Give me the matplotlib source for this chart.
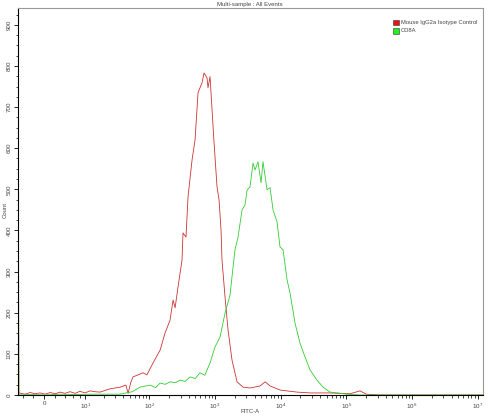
import numpy as np
import matplotlib
matplotlib.use("Agg")
import matplotlib.pyplot as plt
from matplotlib.patches import Rectangle

plt.rcParams["font.family"] = ["Liberation Sans", "DejaVu Sans"]
plt.rcParams["mathtext.fontset"] = "custom"
plt.rcParams["mathtext.rm"] = "Liberation Sans"
plt.rcParams["mathtext.it"] = "Liberation Sans"

# FITC-A values and counts
red_x = [-5.2, -5.0, -3.6, -2.5, -1.6, -0.7, 0.2, 1.1, 2.0, 3.0, 4.0, 5.2, 6.6, 8.1,
         9.9, 12, 14.5, 17.4, 25, 35.6, 44, 47.5, 52, 56.5, 80, 92, 114, 146, 174, 207,
         230, 247, 274, 315, 326, 362, 389, 448, 497, 552, 635, 681, 757, 783, 841,
         902, 968, 1074, 1153, 1236, 1279, 1422, 1581, 1815, 2167, 2673, 3412, 4853,
         5800, 6885, 9770, 17740, 27985, 56350, 113750, 161400, 200000, 325000, 1.2e7]
red_y = [815, 5, 2, 6, 3, 5, 2, 6, 3, 7, 4, 8, 4, 9,
         5, 10, 8, 7, 15, 19, 24, 4, 30, 44, 54, 49, 78, 109, 151, 182,
         231, 212, 263, 328, 394, 384, 482, 572, 620, 735, 759, 783, 771, 747, 774,
         693, 613, 506, 474, 401, 328, 238, 158, 85, 32, 19, 17, 22,
         32, 22, 12, 7, 5, 5, 3, 10, 2, 0, 0]

green_x = [-5.2, -5.0, -2.5, 0.2, 3.0, 6.6, 12, 17.4, 35.6, 55, 72, 103, 125, 146, 175,
           207, 250, 294, 350, 417, 500, 592, 700, 841, 1002, 1194, 1422, 1694, 1883,
           2018, 2244, 2582, 2864, 3076, 3412, 3793, 4072, 4518, 5023, 5383, 6193,
           6885, 7655, 8790, 9770, 10862, 12500, 13865, 16518, 19675, 23495, 27985,
           35722, 44150, 56350, 72100, 102300, 160000, 1.2e7]
green_y = [455, 0, 1, 0, 2, 1, 2, 2, 2, 8, 19, 24, 18, 29, 26,
           32, 30, 36, 33, 44, 40, 54, 48, 78, 117, 141, 199, 243, 311,
           353, 384, 450, 462, 498, 506, 564, 547, 567, 516, 567, 499,
           504, 450, 421, 360, 353, 280, 248, 175, 126, 92, 61,
           36, 19, 7, 5, 2, 0, 0]

series_names = ["Mouse IgG2a Isotype Control", "CD8A"]
line_colors = ["#cc3333", "#33cc33"]
box_colors = ["#ee1111", "#22ee22"]

x_ticks = [0, 1e1, 1e2, 1e3, 1e4, 1e5, 1e6, 1e7]
x_tick_labels = ["0"] + [r"$10^{%d}$" % k for k in range(1, 8)]


def fwd(x):
    return np.arcsinh(np.asarray(x) / 5.0) / np.log(10)


def inv(v):
    return 5.0 * np.sinh(np.asarray(v) * np.log(10))


fig = plt.figure(figsize=(5, 4.19), dpi=100)
ax = fig.add_axes([0.036, 0.0573, 0.93, 0.9237])
ax.set_xscale("function", functions=(fwd, inv))

ax.plot(red_x, red_y, color=line_colors[0], lw=0.6)
ax.plot(green_x, green_y, color=line_colors[1], lw=0.6)

ax.set_xlim(-5.22, 1.2e7)
ax.set_ylim(0, 941)

ax.set_xticks(x_ticks)
ax.set_xticklabels(x_tick_labels)
minor = [-4, -2, 2, 4, 6, 8] + [k * 10 ** d for d in range(1, 7) for k in range(2, 10)]
ax.set_xticks(minor, minor=True)
ax.set_yticks(range(0, 901, 100))
ax.set_yticks(range(0, 941, 25), minor=True)

ax.tick_params(axis="both", which="major", length=3, width=0.6, labelsize=4.5,
               labelcolor="#444444", pad=1.5)
ax.tick_params(axis="both", which="minor", length=1.8, width=0.5)
for lab in ax.get_yticklabels():
    lab.set_rotation(90)
    lab.set_va("center")

for side in ["left", "bottom"]:
    ax.spines[side].set_color("black")
    ax.spines[side].set_linewidth(0.8)
for side in ["top", "right"]:
    ax.spines[side].set_color("#999999")
    ax.spines[side].set_linewidth(0.8)

# axis titles and chart title placed in figure coords
fig.text(0.5, 1 - 411 / 419, "FITC-A", fontsize=4.3, color="#444444",
         ha="center", va="center")
fig.text(5 / 500, 0.5, "Count", fontsize=4.3, color="#444444",
         ha="center", va="center", rotation=90)
fig.text(0.5, 0.995, "Multi-sample : All Events", fontsize=4.3, color="#444444",
         ha="center", va="top")

# legend drawn as boxes + text in axes fraction
for i, name in enumerate(series_names):
    yy = 0.962 - i * 0.021
    ax.add_patch(Rectangle((0.806, yy - 0.007), 0.013, 0.015, transform=ax.transAxes,
                           facecolor=box_colors[i], edgecolor="#333333", lw=0.4,
                           clip_on=False))
    ax.text(0.823, yy, name, transform=ax.transAxes, fontsize=4.2, color="#444444",
            va="center", ha="left")

fig.savefig("out.png", dpi=100)
plt.close()
